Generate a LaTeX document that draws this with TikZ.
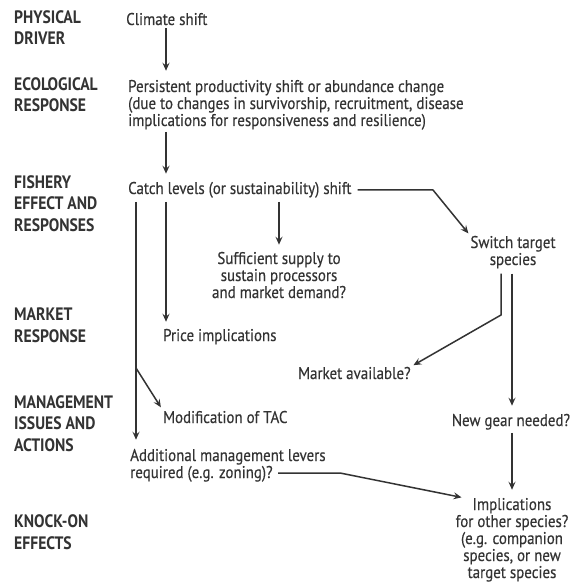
\documentclass[tikz,border=0pt]{standalone}
\usepackage{fontspec}
\setmainfont{PT Sans}[FakeStretch=0.88,FakeBold=0.35]
\newfontfamily\tierfont{PT Sans}[FakeStretch=0.87]
\usetikzlibrary{arrows.meta}
\definecolor{ink}{HTML}{333333}
\begin{document}
\begin{tikzpicture}[x=1pt,y=-1pt,
  tier/.style={anchor=base west,inner sep=0pt,align=left,text=ink,
    font=\tierfont\bfseries\fontsize{18}{21.5}\selectfont},
  txt/.style={anchor=base west,inner sep=0pt,align=left,text=ink,
    font=\fontsize{17}{17}\selectfont},
  ctxt/.style={txt,anchor=base,align=center},
  arr/.style={draw=ink,line width=1.5pt,
    -{Stealth[length=8pt,width=7pt,inset=3pt]}}]
\useasboundingbox[fill=white] (0,0) rectangle (571,588);

% tier labels down the left side (placed by the baseline of their last line)
\node[tier] (t1) at (14,45)  {PHYSICAL\\DRIVER};
\node[tier] (t2) at (14,112) {ECOLOGICAL\\RESPONSE};
\node[tier] (t3) at (14,231) {FISHERY\\EFFECT AND\\RESPONSES};
\node[tier] (t4) at (14,342) {MARKET\\RESPONSE};
\node[tier] (t5) at (14,451) {MANAGEMENT\\ISSUES AND\\ACTIONS};
\node[tier] (t6) at (14,549) {KNOCK-ON\\EFFECTS};

% statements
\node[txt] (climate) at (126,25) {Climate shift};
\node[txt] (eco) at (128,126) {Persistent productivity shift or abundance change\\
  (due to changes in survivorship, recruitment, disease\\
  implications for responsiveness and resilience)};
\node[txt] (catch) at (128,194) {Catch levels (or sustainability) shift};
\node[ctxt] (suff) at (279,298) {Sufficient supply to\\sustain processors\\and market demand?};
\node[ctxt] (switch) at (513,265) {Switch target\\species};
\node[txt] (price) at (163,341) {Price implications};
\node[txt] (market) at (298,379) {Market available?};
\node[txt] (tac) at (163,423) {Modification of TAC};
\node[ctxt] (gear) at (511,426) {New gear needed?};
\node[txt] (addl) at (130,478) {Additional management levers\\required (e.g. zoning)?};
\node[ctxt] (impl) at (512,578) {Implications\\for other species?\\(e.g. companion\\species, or new\\target species};

% connector columns and bends
\coordinate (xa) at (136,0);
\coordinate (xb) at (166,0);
\coordinate (xc) at (279,0);
\coordinate (xd) at (501,0);
\coordinate (xe) at (512,0);
\coordinate (bendA) at (433,190);
\coordinate (bendB) at (501,315);
\coordinate (fork) at (136,368);
\coordinate (addlEnd) at (278,473);
\coordinate (bendC) at (340,473);

\draw[arr,shorten <=3pt,shorten >=9pt] (climate.south -| xb) -- (eco.north -| xb);
\draw[arr,shorten <=2pt,shorten >=8pt] (eco.south -| xb) -- (catch.north -| xb);
\draw[arr,shorten <=4pt,shorten >=7pt] (catch.south -| xb) -- (price.north -| xb);
\draw[arr,shorten <=4pt,shorten >=7pt] (catch.south -| xc) -- (suff.north -| xc);
\draw[arr,shorten <=4pt,shorten >=9pt] (catch.south -| xa) -- (addl.north -| xa);
\draw[arr,shorten >=4pt] (fork) -- (tac.north west);
\draw[arr,shorten <=6pt,shorten >=3pt] (catch.east) -- (bendA) -- (switch.north west);
\draw[arr,shorten <=5pt,shorten >=3pt] (switch.south -| xd) -- (bendB) -- (market.north east);
\draw[arr,shorten <=5pt,shorten >=8pt] (switch.south -| xe) -- (gear.north -| xe);
\draw[arr,shorten <=3pt,shorten >=8pt] (gear.south -| xe) -- (impl.north -| xe);
\draw[arr,shorten >=2pt] (addlEnd) -- (bendC) -- ([xshift=8pt]impl.north west);
\end{tikzpicture}
\end{document}
